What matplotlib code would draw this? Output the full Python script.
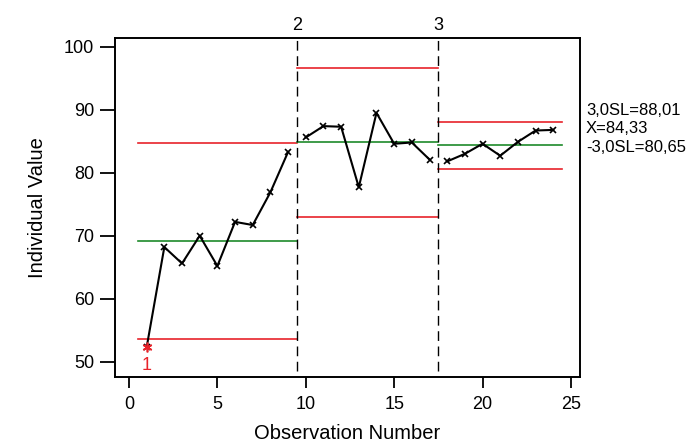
import numpy as np
import matplotlib
matplotlib.use("Agg")
import matplotlib.pyplot as plt

plt.rcParams['font.family'] = ['Liberation Sans', 'DejaVu Sans']

obs = list(range(1, 25))
values = [52.3, 68.2, 65.6, 70.0, 65.2, 72.2, 71.7, 76.9, 83.3,
          85.6, 87.4, 87.3, 77.7, 89.5, 84.6, 84.8, 82.1,
          81.8, 83.0, 84.6, 82.7, 84.9, 86.7, 86.8]

# stages: (start, end, UCL, center, LCL)
stage_start = [0.5, 9.5, 17.5]
stage_end = [9.5, 17.5, 24.5]
ucl = [84.7, 96.6, 88.01]
center = [69.2, 84.8, 84.33]
lcl = [53.6, 73.0, 80.65]
stage_labels = ["1", "2", "3"]

fig = plt.figure(figsize=(6.96, 4.46), dpi=100)
ax = fig.add_axes([0.165, 0.155, 0.668, 0.76])

ax.set_xlim(-0.8, 25.5)
ax.set_ylim(47.6, 101.4)

for i in range(3):
    ax.plot([stage_start[i], stage_end[i]], [ucl[i], ucl[i]], color='#e8232a', lw=1.2)
    ax.plot([stage_start[i], stage_end[i]], [center[i], center[i]], color='#1e8a2a', lw=1.2)
    ax.plot([stage_start[i], stage_end[i]], [lcl[i], lcl[i]], color='#e8232a', lw=1.2)

# stage breaks
for i in (1, 2):
    ax.plot([stage_start[i], stage_start[i]], [48.5, 101.4], color='black', lw=1.0,
            ls=(0, (7, 4)), clip_on=False)
    ax.text(stage_start[i], 102.0, stage_labels[i], ha='center', va='bottom', fontsize=13)

# data segments
seg = [(0, 9), (9, 17), (17, 24)]
for a, b in seg:
    ax.plot(obs[a:b], values[a:b], color='black', lw=1.5, marker='x', ms=5, mew=1.2)

# out of control point
ax.plot(obs[0], values[0], ls='none', marker=(6, 2, 0), color='#e8232a', ms=7, mew=1.2)
ax.text(obs[0], values[0] - 1.5, "1", color='#e8232a', ha='center', va='top', fontsize=13)

ax.set_xticks([0, 5, 10, 15, 20, 25])
ax.set_yticks([50, 60, 70, 80, 90, 100])
ax.tick_params(axis='y', direction='out', length=11, width=1.3, labelsize=13, pad=4)
ax.tick_params(axis='x', direction='out', length=8, width=1.3, labelsize=13, pad=6)
for s in ax.spines.values():
    s.set_linewidth(1.4)

ax.set_xlabel("Observation Number", fontsize=14.5, labelpad=8)
ax.set_ylabel("Individual Value", fontsize=14.5, labelpad=12)

fig.text(0.842, 0.753, "3,0SL=88,01", fontsize=12, va='center')
fig.text(0.842, 0.712, "X=84,33", fontsize=12, va='center')
fig.text(0.842, 0.670, "-3,0SL=80,65", fontsize=12, va='center')

fig.savefig("out.png", dpi=100)
